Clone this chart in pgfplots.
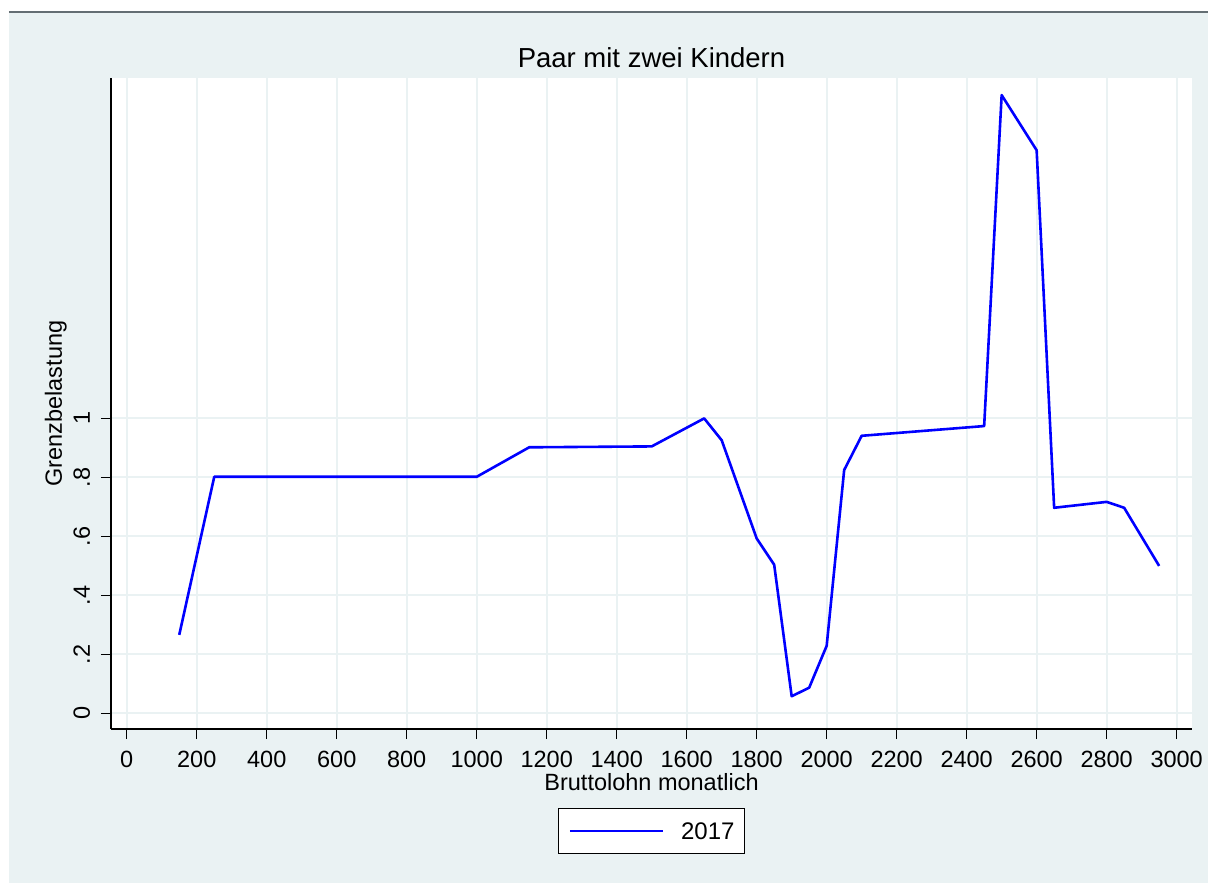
\documentclass[border=0pt]{standalone}
\usepackage{pgfplots}
\pgfplotsset{compat=1.18}
\usepackage{fontspec}
\setmainfont{Liberation Sans}
\definecolor{bgc}{RGB}{234,242,243}
\definecolor{gridc}{RGB}{234,242,243}
\definecolor{topline}{RGB}{100,110,115}
\definecolor{linec}{RGB}{0,0,255}
\begin{document}
\begin{tikzpicture}
\useasboundingbox (-111pt,-154pt) rectangle (1097pt,729pt);
\fill[white] (-111pt,-154pt) rectangle (1097pt,729pt);
\fill[bgc] (-102pt,-154pt) rectangle (1097pt,717pt);
\draw[topline, line width=1.5pt] (-102pt,717pt) -- (1097pt,717pt);
\begin{axis}[
  at={(0pt,0pt)}, anchor=south west,
  scale only axis, width=1081pt, height=651pt,
  xmin=-45, xmax=3044, ymin=-0.053, ymax=2.154,
  axis lines*=left,
  axis background/.style={fill=white},
  axis line style={line width=1.5pt, black},
  tick align=outside,
  major tick length=10pt,
  major tick style={line width=1.5pt, black},
  xtick={0,200,...,3000},
  ytick={0,0.2,0.4,0.6,0.8,1},
  yticklabels={0,.2,.4,.6,.8,1},
  scaled x ticks=false,
  /pgf/number format/set thousands separator={},
  /pgf/number format/assume math mode=true,
  tick label style={font=\fontsize{23.5}{28}\selectfont, black},
  xticklabel style={yshift=-9pt},
  yticklabel style={xshift=-11pt, rotate=90, anchor=base, inner sep=0pt},
  grid=major,
  major grid style={gridc, line width=2pt},
  title={Paar mit zwei Kindern},
  title style={at={(axis description cs:0.5,1)}, anchor=base, yshift=4pt, inner sep=0pt, font=\fontsize{27.5}{32}\selectfont},
  xlabel={Bruttolohn monatlich},
  xlabel style={at={(axis description cs:0.5,0)}, anchor=base, yshift=-61pt, inner sep=0pt, font=\fontsize{23.5}{28}\selectfont},
  ylabel={Grenzbelastung},
  ylabel style={at={(axis description cs:0,0.5)}, anchor=base, yshift=49pt, inner sep=0pt, font=\fontsize{23.5}{28}\selectfont},
  legend style={at={(axis description cs:0.5,0)}, anchor=north, yshift=-79pt, draw=black, line width=1.2pt, fill=white,
    font=\fontsize{24}{28}\selectfont, inner xsep=10pt, inner ysep=14pt,
    nodes={inner sep=0pt, text depth=0pt},
    /tikz/every odd column/.append style={column sep=17pt}},
  legend image code/.code={\draw[#1] (0pt,0pt) -- (93pt,0pt);},
]
\addplot[linec, line width=2.6pt, line join=round] coordinates {
(150,0.266) (250,0.802) (1000,0.802) (1150,0.902) (1500,0.905)
(1650,1.000) (1700,0.926) (1800,0.593) (1850,0.504) (1900,0.058)
(1950,0.087) (2000,0.229) (2050,0.825) (2100,0.941) (2450,0.974)
(2500,2.096) (2600,1.909) (2650,0.697) (2800,0.717) (2850,0.697)
(2950,0.500)
};
\addlegendentry{2017}
\end{axis}
\end{tikzpicture}
\end{document}
